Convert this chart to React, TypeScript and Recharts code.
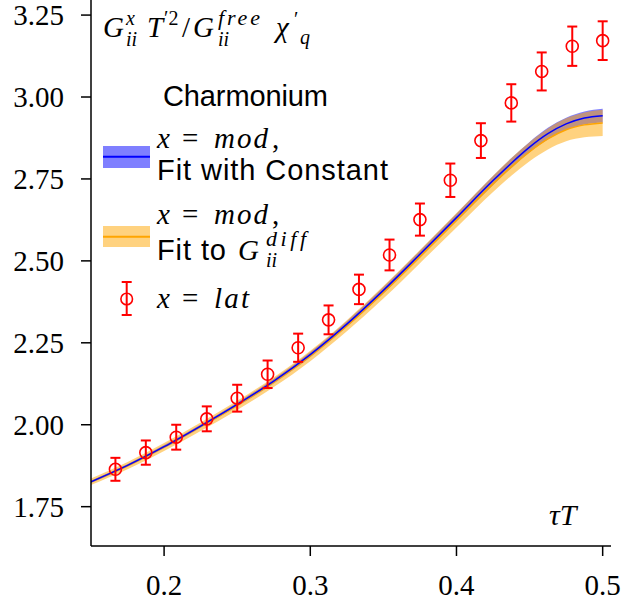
import React from "react";
import { ComposedChart, Area, Line, Scatter, ErrorBar, XAxis, YAxis } from "recharts";

// fit curves (tau T grid)
const tauGrid = [0.15, 0.175, 0.2, 0.225, 0.25, 0.275, 0.3, 0.325, 0.35, 0.375, 0.4, 0.425, 0.4375, 0.45, 0.4625, 0.475, 0.4875, 0.5];
const blueMid = [1.826, 1.876, 1.933, 1.996, 2.062, 2.133, 2.214, 2.307, 2.41, 2.52, 2.632, 2.745, 2.798, 2.847, 2.888, 2.918, 2.936, 2.943];
const blueErr = [0.004, 0.004, 0.005, 0.005, 0.006, 0.007, 0.008, 0.009, 0.01, 0.011, 0.012, 0.014, 0.015, 0.016, 0.018, 0.019, 0.02, 0.021];
const orangeMid = [1.826, 1.875, 1.932, 1.994, 2.059, 2.13, 2.21, 2.302, 2.404, 2.513, 2.624, 2.735, 2.787, 2.833, 2.872, 2.9, 2.915, 2.921];
const orangeErr = [0.01, 0.011, 0.012, 0.013, 0.014, 0.015, 0.016, 0.017, 0.019, 0.02, 0.022, 0.025, 0.027, 0.029, 0.032, 0.035, 0.038, 0.04];

// lattice points
const latTau = [0.1667, 0.1875, 0.2083, 0.2292, 0.25, 0.2708, 0.2917, 0.3125, 0.3333, 0.3542, 0.375, 0.3958, 0.4167, 0.4375, 0.4583, 0.4792, 0.5];
const latVal = [1.864, 1.915, 1.962, 2.018, 2.081, 2.154, 2.235, 2.32, 2.413, 2.518, 2.626, 2.746, 2.867, 2.982, 3.078, 3.155, 3.172];
const latErr = [0.035, 0.037, 0.038, 0.038, 0.041, 0.042, 0.043, 0.044, 0.045, 0.047, 0.049, 0.051, 0.053, 0.057, 0.058, 0.06, 0.059];

const xTicks = [0.2, 0.3, 0.4, 0.5];
const yTicks = [1.75, 2.0, 2.25, 2.5, 2.75, 3.0, 3.25];

const curveRows = tauGrid.map((x, i) => ({
  x,
  blue: blueMid[i],
  blueBand: [blueMid[i] - blueErr[i], blueMid[i] + blueErr[i]],
  orange: orangeMid[i],
  orangeBand: [orangeMid[i] - orangeErr[i], orangeMid[i] + orangeErr[i]],
}));

const latRows = latTau.map((x, i) => ({ x, y: latVal[i], err: latErr[i] }));

const SERIF = "'Liberation Serif', 'Times New Roman', serif";
const SANS = "'Liberation Sans', Arial, sans-serif";

const serifStyle = { fontFamily: SERIF };
const sansStyle = { fontFamily: SANS };
const it = { fontFamily: SERIF, fontStyle: "italic" as const };

const XTick = (props: any) => (
  <text x={props.x} y={props.y} dy={20.6} textAnchor="middle" fontSize={29} fill="#000" style={serifStyle}>
    {Number(props.payload.value).toFixed(1)}
  </text>
);

const YTick = (props: any) => (
  <text x={props.x} y={props.y} dy={10.3} textAnchor="end" fontSize={29} fill="#000" style={serifStyle}>
    {Number(props.payload.value).toFixed(2)}
  </text>
);

const OpenCircle = (props: any) => {
  const { cx, cy } = props;
  if (cx == null || cy == null) return null;
  return <circle cx={cx} cy={cy} r={6} fill="none" stroke="#ff0000" strokeWidth={1.6} />;
};

// "x = <word>" legend label, pieces placed like the TeX output
const MathLabel = ({ y, word, wordLen, comma }: { y: number; word: string; wordLen: number; comma?: boolean }) => (
  <g fontSize={29}>
    <text x={157} y={y} style={it}>x</text>
    <text x={182} y={y} style={serifStyle}>=</text>
    <text x={214} y={y} style={it} textLength={wordLen} lengthAdjust="spacing">{word}</text>
    {comma && <text x={272} y={y} style={serifStyle}>,</text>}
  </g>
);

function Overlay() {
  return (
    <svg
      width={625}
      height={602}
      style={{ position: "absolute", left: 0, top: 0, pointerEvents: "none" }}
      fill="#000"
    >
      {/* y label in the corner */}
      <text x={103} y={37} fontSize={29} style={it}>G</text>
      <text x={126} y={25} fontSize={20} style={it}>x</text>
      <text x={126} y={46} fontSize={20} style={it}>ii</text>
      <text x={147} y={37} fontSize={29} style={it}>T</text>
      <text x={164} y={25} fontSize={20} style={serifStyle}>′2</text>
      <text x={182} y={37} fontSize={29} style={serifStyle}>/</text>
      <text x={193} y={37} fontSize={29} style={it}>G</text>
      <text x={218} y={25} fontSize={22} style={it} textLength={42} lengthAdjust="spacing">free</text>
      <text x={218} y={46} fontSize={20} style={it}>ii</text>
      <text x={276} y={37} fontSize={29} style={it}>χ</text>
      <text x={294} y={26} fontSize={20} style={serifStyle}>′</text>
      <text x={300} y={44} fontSize={20} style={it}>q</text>

      {/* legend */}
      <text x={163} y={106} fontSize={29} style={sansStyle} textLength={165}>Charmonium</text>

      <rect x={103} y={146} width={47} height={22} fill="#0000ff" fillOpacity={0.5} />
      <line x1={103} x2={150} y1={156.7} y2={156.7} stroke="#0000ff" strokeWidth={2} />
      <MathLabel y={148} word="mod" wordLen={54} comma />
      <text x={157} y={180} fontSize={29} style={sansStyle} textLength={231}>Fit with Constant</text>

      <rect x={103} y={226} width={47} height={21} fill="#ffa500" fillOpacity={0.5} />
      <line x1={103} x2={150} y1={236.7} y2={236.7} stroke="#ffa500" strokeWidth={2} />
      <MathLabel y={224} word="mod" wordLen={54} comma />
      <text x={157} y={260} fontSize={29} style={sansStyle} textLength={69}>Fit to</text>
      <text x={238} y={260} fontSize={29} style={it}>G</text>
      <text x={266} y={246} fontSize={22} style={it} textLength={40} lengthAdjust="spacing">diff</text>
      <text x={266} y={267} fontSize={20} style={it}>ii</text>

      <line x1={126.7} x2={126.7} y1={282} y2={315} stroke="#ff0000" strokeWidth={2} />
      <line x1={121.7} x2={131.7} y1={282} y2={282} stroke="#ff0000" strokeWidth={2} />
      <line x1={121.7} x2={131.7} y1={315} y2={315} stroke="#ff0000" strokeWidth={2} />
      <circle cx={126.7} cy={299} r={5.8} fill="none" stroke="#ff0000" strokeWidth={1.6} />
      <MathLabel y={308} word="lat" wordLen={35} />

      {/* x label */}
      <text x={549} y={525} fontSize={30} style={it}>τT</text>
    </svg>
  );
}

export default function App() {
  return (
    <div style={{ position: "absolute", left: 0, top: 0, width: 625, height: 602, background: "#fff" }}>
      <ComposedChart
        width={625}
        height={602}
        data={curveRows}
        margin={{ top: 0, right: 14, bottom: 0, left: 0 }}
      >
        <XAxis
          dataKey="x"
          type="number"
          domain={[0.15, 0.5057]}
          ticks={xTicks}
          allowDataOverflow
          height={56}
          tickSize={10}
          tickMargin={18}
          tick={<XTick />}
          axisLine={{ stroke: "#000", strokeWidth: 1.5 }}
          tickLine={{ stroke: "#000", strokeWidth: 1.5 }}
        />
        <YAxis
          type="number"
          domain={[1.63, 3.296]}
          ticks={yTicks}
          allowDataOverflow
          width={91}
          tickSize={10}
          tickMargin={17}
          tick={<YTick />}
          axisLine={{ stroke: "#000", strokeWidth: 1.5 }}
          tickLine={{ stroke: "#000", strokeWidth: 1.5 }}
        />
        <YAxis
          yAxisId="right"
          orientation="right"
          type="number"
          domain={[0, 1]}
          width={0}
          tick={false}
          tickLine={false}
          axisLine={{ stroke: "#000", strokeWidth: 1.5 }}
        />
        <Area
          type="monotone"
          dataKey="blueBand"
          stroke="none"
          fill="#0000ff"
          fillOpacity={0.5}
          isAnimationActive={false}
          activeDot={false}
        />
        <Area
          type="monotone"
          dataKey="orangeBand"
          stroke="none"
          fill="#ffa500"
          fillOpacity={0.5}
          isAnimationActive={false}
          activeDot={false}
        />
        <Line
          type="monotone"
          dataKey="orange"
          stroke="#ffa500"
          strokeWidth={1.5}
          dot={false}
          activeDot={false}
          isAnimationActive={false}
        />
        <Line
          type="monotone"
          dataKey="blue"
          stroke="#0000ff"
          strokeWidth={1.5}
          dot={false}
          activeDot={false}
          isAnimationActive={false}
        />
        <Scatter data={latRows} dataKey="y" shape={<OpenCircle />} isAnimationActive={false}>
          <ErrorBar dataKey="err" direction="y" width={5} stroke="#ff0000" strokeWidth={2} />
        </Scatter>
      </ComposedChart>
      <Overlay />
    </div>
  );
}
